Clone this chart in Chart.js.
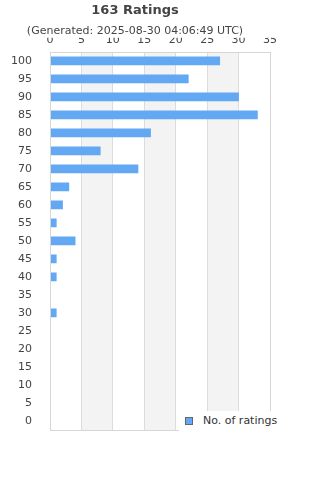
<!DOCTYPE html>
<html>
<head>
<meta charset="utf-8">
<script src="https://cdn.jsdelivr.net/npm/chart.js@4"></script>
<style>
  body { margin: 0; background: #fff; }
  #wrap { position: relative; width: 320px; height: 480px; }
  #legend { position: absolute; left: 179px; top: 411px; width: 141px; height: 22px; background: #fff;
            font: 11px "DejaVu Sans", sans-serif; color: #333; }
  #legend span.box { position: absolute; left: 6px; top: 6px; width: 6px; height: 6px;
            background: #62a8f3; border: 1px solid #666; }
  #legend span.txt { position: absolute; left: 24px; top: 3px; }
</style>
</head>
<body>
<div id="wrap">
  <canvas id="myChart" width="320" height="480"></canvas>
  <div id="legend"><span class="box"></span><span class="txt">No. of ratings</span></div>
</div>
<script>
// Ratings buckets, top to bottom
var categories = ['100', '95', '90', '85', '80', '75', '70', '65', '60', '55', '50',
                  '45', '40', '35', '30', '25', '20', '15', '10', '5', '0'];
var ratingCounts = [27, 22, 30, 33, 16, 8, 14, 3, 2, 1, 4, 1, 1, 0, 1, 0, 0, 0, 0, 0, 0];
var xTicks = [0, 5, 10, 15, 20, 25, 30, 35];

// shade every other 5-unit band, then frame the plot area
var bands = {
    id: 'bands',
    beforeDraw: function(chart) {
        var c = chart.ctx, x = chart.scales.x, a = chart.chartArea;
        c.save();
        c.fillStyle = '#f3f3f3';
        for (var i = 1; i < xTicks.length - 1; i += 2) {
            var x0 = x.getPixelForValue(xTicks[i]), x1 = x.getPixelForValue(xTicks[i + 1]);
            c.fillRect(x0, a.top, x1 - x0, a.bottom - a.top);
        }
        c.restore();
    },
    afterDraw: function(chart) {
        var c = chart.ctx, a = chart.chartArea;
        c.save();
        c.strokeStyle = '#d6d6d6';
        c.lineWidth = 1;
        c.strokeRect(Math.round(a.left) + 0.5, Math.round(a.top) + 0.5,
                     Math.round(a.right - a.left), Math.round(a.bottom - a.top));
        c.restore();
    }
};

var ctx = document.getElementById('myChart').getContext('2d');
var myChart = new Chart(ctx, {
    type: 'bar',
    data: {
        labels: categories,
        datasets: [{
            label: 'No. of ratings',
            backgroundColor: '#62a8f3',
            data: ratingCounts,
            barThickness: 8
        }]
    },
    options: {
        indexAxis: 'y',
        responsive: false,
        animation: false,
        layout: { padding: { top: 0, right: 50, bottom: 50, left: 0 } },
        plugins: {
            legend: { display: false },
            tooltip: { enabled: false },
            title: {
                display: true,
                text: '163 Ratings',
                color: '#444',
                font: { family: 'DejaVu Sans', size: 13, weight: 'bold' },
                padding: { top: 3, bottom: 4 }
            },
            subtitle: {
                display: true,
                text: '(Generated: 2025-08-30 04:06:49 UTC)',
                color: '#444',
                font: { family: 'DejaVu Sans', size: 11 },
                padding: { top: 2, bottom: 0 }
            }
        },
        scales: {
            x: {
                position: 'top',
                min: 0, max: 35,
                ticks: { stepSize: 5, color: '#444', padding: 5,
                         font: { family: 'DejaVu Sans', size: 11 } },
                grid: { color: '#dcdcdc', drawTicks: false },
                border: { display: false },
                afterFit: function(s) { s.height = 14; }
            },
            y: {
                ticks: { color: '#444', padding: 10,
                         font: { family: 'DejaVu Sans', size: 11 } },
                grid: { display: false },
                border: { display: false },
                afterFit: function(s) { s.width = 50; }
            }
        }
    },
    plugins: [bands]
});
</script>
</body>
</html>
